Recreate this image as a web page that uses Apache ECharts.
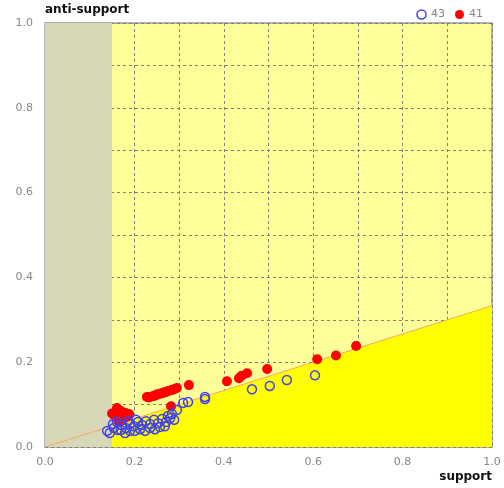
<!DOCTYPE html>
<html><head><meta charset="utf-8">
<script src="https://cdn.jsdelivr.net/npm/echarts@6/dist/echarts.min.js"></script>
<style>html,body{margin:0;padding:0;background:#fff}#c{width:504px;height:488px}</style>
</head><body><div id="c"></div>
<script>
const xTicks = [0, 0.2, 0.4, 0.6, 0.8, 1.0];
const yTicks = [0, 0.2, 0.4, 0.6, 0.8, 1.0];
const greyZoneMax = 0.15;
const thresholdLine = [[0, 0], [1, 0.3333]];
const thresholdArea = [[0.15, 0.05], [1, 0.3333]];
const blueName = '43';
const redName = '41';
const blueX = [0.145,0.154,0.163,0.172,0.181,0.190,0.199,0.208,0.217,0.226,0.235,0.244,0.253,0.262,0.271,0.280,0.289,0.152,0.161,0.170,0.179,0.190,0.201,0.213,0.224,0.235,0.246,0.257,0.268,0.186,0.204,0.309,0.320,0.358,0.358,0.463,0.503,0.541,0.604,0.295,0.284,0.275,0.139];
const blueY = [0.033,0.045,0.040,0.052,0.045,0.054,0.049,0.059,0.052,0.061,0.054,0.064,0.056,0.066,0.059,0.068,0.064,0.054,0.059,0.040,0.033,0.038,0.038,0.042,0.038,0.045,0.042,0.047,0.049,0.061,0.064,0.104,0.106,0.118,0.113,0.136,0.144,0.158,0.169,0.087,0.078,0.073,0.038];
const redX = [0.161,0.157,0.166,0.183,0.188,0.161,0.170,0.177,0.150,0.175,0.165,0.228,0.235,0.242,0.248,0.255,0.262,0.268,0.275,0.282,0.289,0.295,0.232,0.245,0.258,0.271,0.285,0.322,0.282,0.407,0.434,0.452,0.497,0.609,0.651,0.696,0.163,0.180,0.250,0.265,0.440];
const redY = [0.082,0.071,0.064,0.071,0.078,0.092,0.085,0.075,0.079,0.066,0.060,0.118,0.118,0.120,0.122,0.125,0.127,0.129,0.132,0.134,0.136,0.139,0.117,0.121,0.126,0.130,0.135,0.146,0.096,0.155,0.162,0.174,0.184,0.207,0.216,0.238,0.076,0.080,0.124,0.128,0.168];

const blueData = blueX.map((x, i) => [x, blueY[i]]);
const redData = redX.map((x, i) => [x, redY[i]]);
const fmt = v => (Math.abs(Math.round(v * 10) % 2) === 0) ? v.toFixed(1) : '';

const chart = echarts.init(document.getElementById('c'));
chart.setOption({
  animation: false,
  grid: { left: 45, right: 12, top: 23, bottom: 41, show: true, backgroundColor: '#ffff99', borderColor: '#999', borderWidth: 1.5 },
  legend: {
    right: 16, top: 4, itemGap: 10, itemWidth: 9, itemHeight: 9,
    textStyle: { color: '#888', fontSize: 11, fontFamily: 'DejaVu Sans' },
    data: [
      { name: blueName, icon: 'circle', itemStyle: { color: '#ffffff', borderColor: '#4444ee', borderWidth: 1.5, opacity: 1 } },
      { name: redName, icon: 'circle' }
    ]
  },
  xAxis: {
    type: 'value', min: 0, max: 1, interval: 0.1,
    axisLine: { show: false }, axisTick: { show: false },
    axisLabel: { formatter: fmt, color: '#888', fontSize: 11, fontFamily: 'DejaVu Sans', margin: 10 },
    splitLine: { show: true, lineStyle: { color: '#808080', type: [3, 3], width: 1 } }
  },
  yAxis: {
    type: 'value', min: 0, max: 1, interval: 0.1,
    axisLine: { show: false }, axisTick: { show: false },
    axisLabel: { formatter: fmt, color: '#888', fontSize: 11, fontFamily: 'DejaVu Sans', margin: 12 },
    splitLine: { show: true, lineStyle: { color: '#808080', type: [3, 3], width: 1 } }
  },
  graphic: [
    { type: 'text', left: 45, top: 4, style: { text: 'anti-support', font: 'bold 12px "DejaVu Sans"', fill: '#111' } },
    { type: 'text', right: 12, top: 471, style: { text: 'support', font: 'bold 12px "DejaVu Sans"', fill: '#111' } }
  ],
  series: [
    {
      type: 'line', data: thresholdArea, symbol: 'none', silent: true, z: 1,
      lineStyle: { width: 0 }, areaStyle: { color: '#ffff00', opacity: 1 },
      markArea: { silent: true, itemStyle: { color: '#d8d8b8' }, data: [[{ xAxis: 0, yAxis: 0 }, { xAxis: greyZoneMax, yAxis: 1 }]] }
    },
    {
      type: 'line', data: thresholdLine, symbol: 'none', silent: true, z: 2,
      lineStyle: { color: '#f5a860', width: 1 }
    },
    {
      name: redName, type: 'scatter', data: redData, symbol: 'circle', symbolSize: 10, z: 3,
      itemStyle: { color: '#ff0000', opacity: 1 }
    },
    {
      name: blueName, type: 'scatter', data: blueData, symbol: 'circle', symbolSize: 9, z: 4,
      itemStyle: { color: 'rgba(0,0,0,0)', borderColor: '#4444ee', borderWidth: 1.5, opacity: 1 }
    }
  ]
});
</script></body></html>
